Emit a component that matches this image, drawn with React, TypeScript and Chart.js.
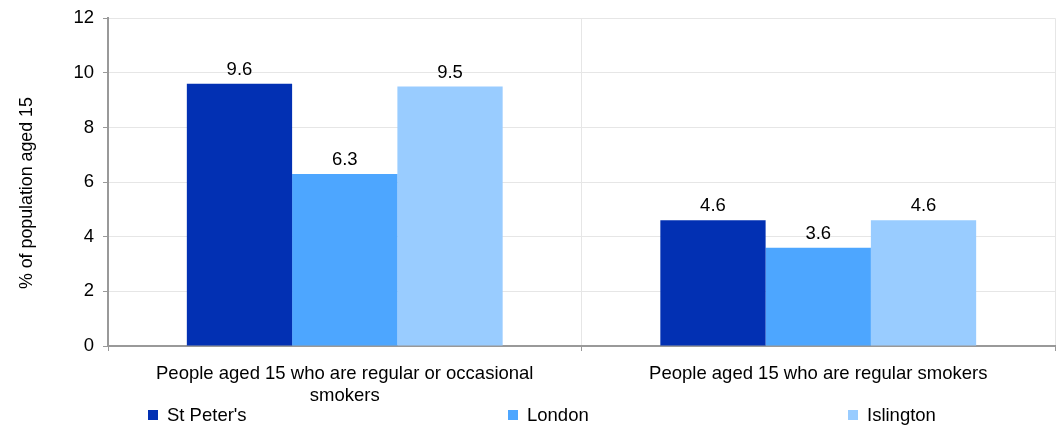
import React, { useEffect, useRef } from "react";
import { Chart, registerables } from "chart.js";

Chart.register(...registerables);

const categories: (string | string[])[] = [
  ["People aged 15 who are regular or occasional", "smokers"],
  "People aged 15 who are regular smokers",
];
const seriesNames = ["St Peter's", "London", "Islington"];
const stPeters = [9.6, 4.6];
const london = [6.3, 3.6];
const islington = [9.5, 4.6];
const seriesColors = ["#0230B3", "#4DA6FF", "#99CCFF"];
const yAxisTitle = "% of population aged 15";
const yMin = 0;
const yMax = 12;
const yStep = 2;

const FONT = "'Liberation Sans', Arial, sans-serif";
const TEXT_SIZE = 18.5;

const legendX = [148, 508, 848];

const valueLabels = {
  id: "valueLabels",
  afterDatasetsDraw(chart: any) {
    const ctx = chart.ctx;
    ctx.save();
    ctx.font = `${TEXT_SIZE}px ${FONT}`;
    ctx.fillStyle = "#000";
    ctx.textAlign = "center";
    ctx.textBaseline = "alphabetic";
    chart.data.datasets.forEach((ds: any, i: number) => {
      const meta = chart.getDatasetMeta(i);
      meta.data.forEach((el: any, j: number) => {
        ctx.fillText(Number(ds.data[j]).toFixed(1), el.x, el.y - 9);
      });
    });
    ctx.restore();
  },
};

export default function App() {
  const ref = useRef<HTMLCanvasElement>(null);
  useEffect(() => {
    if (!ref.current) return;
    const seriesData = [stPeters, london, islington];
    const chart = new Chart(ref.current, {
      type: "bar",
      data: {
        labels: categories,
        datasets: seriesNames.map((name, i) => ({
          label: name,
          data: seriesData[i],
          backgroundColor: seriesColors[i],
          borderWidth: 0,
          categoryPercentage: 0.667,
          barPercentage: 1.0,
        })),
      },
      options: {
        responsive: false,
        animation: false,
        devicePixelRatio: 1,
        layout: { padding: { left: 13, top: 17, right: 2, bottom: 0 } },
        plugins: {
          legend: { display: false },
          tooltip: { enabled: false },
        },
        scales: {
          x: {
            grid: {
              color: "#e6e6e6",
              tickColor: "#999",
              tickLength: 5,
              offset: true,
            },
            border: { color: "#999", width: 2 },
            ticks: {
              color: "#000",
              padding: 12,
              maxRotation: 0,
              autoSkip: false,
              font: { family: FONT, size: TEXT_SIZE, lineHeight: 1.2 },
            },
            afterFit(scale: any) {
              scale.height = 79;
            },
          },
          y: {
            min: yMin,
            max: yMax,
            grid: {
              color: "#e6e6e6",
              tickColor: "#999",
              tickLength: 5,
            },
            border: { color: "#999", width: 2 },
            ticks: {
              stepSize: yStep,
              color: "#000",
              padding: 9,
              font: { family: FONT, size: TEXT_SIZE, lineHeight: 1 },
            },
            title: {
              display: true,
              text: yAxisTitle,
              color: "#000",
              font: { family: FONT, size: 17.8 },
              padding: { top: 3, bottom: 4 },
            },
            afterFit(scale: any) {
              scale.width = 95;
              if (!scale.__titlePatched) {
                scale.__titlePatched = true;
                const orig = scale.drawTitle.bind(scale);
                scale.drawTitle = () => {
                  const c = scale.ctx;
                  c.save();
                  c.translate(0, 11);
                  orig();
                  c.restore();
                };
              }
            },
          },
        },
      },
      plugins: [valueLabels],
    });
    return () => chart.destroy();
  }, []);

  return (
    <div
      style={{
        position: "absolute",
        left: 0,
        top: 0,
        width: 1057,
        height: 425,
        fontFamily: FONT,
      }}
    >
      <canvas ref={ref} width={1057} height={425} style={{ display: "block" }} />
      {seriesNames.map((name, i) => (
        <div
          key={name}
          style={{
            position: "absolute",
            left: legendX[i],
            top: 404,
            height: 22,
            display: "flex",
            alignItems: "center",
            fontSize: TEXT_SIZE,
            color: "#000",
            whiteSpace: "nowrap",
          }}
        >
          <span
            style={{
              display: "inline-block",
              width: 10,
              height: 10,
              background: seriesColors[i],
              marginRight: 9,
            }}
          />
          <span>{name}</span>
        </div>
      ))}
    </div>
  );
}
